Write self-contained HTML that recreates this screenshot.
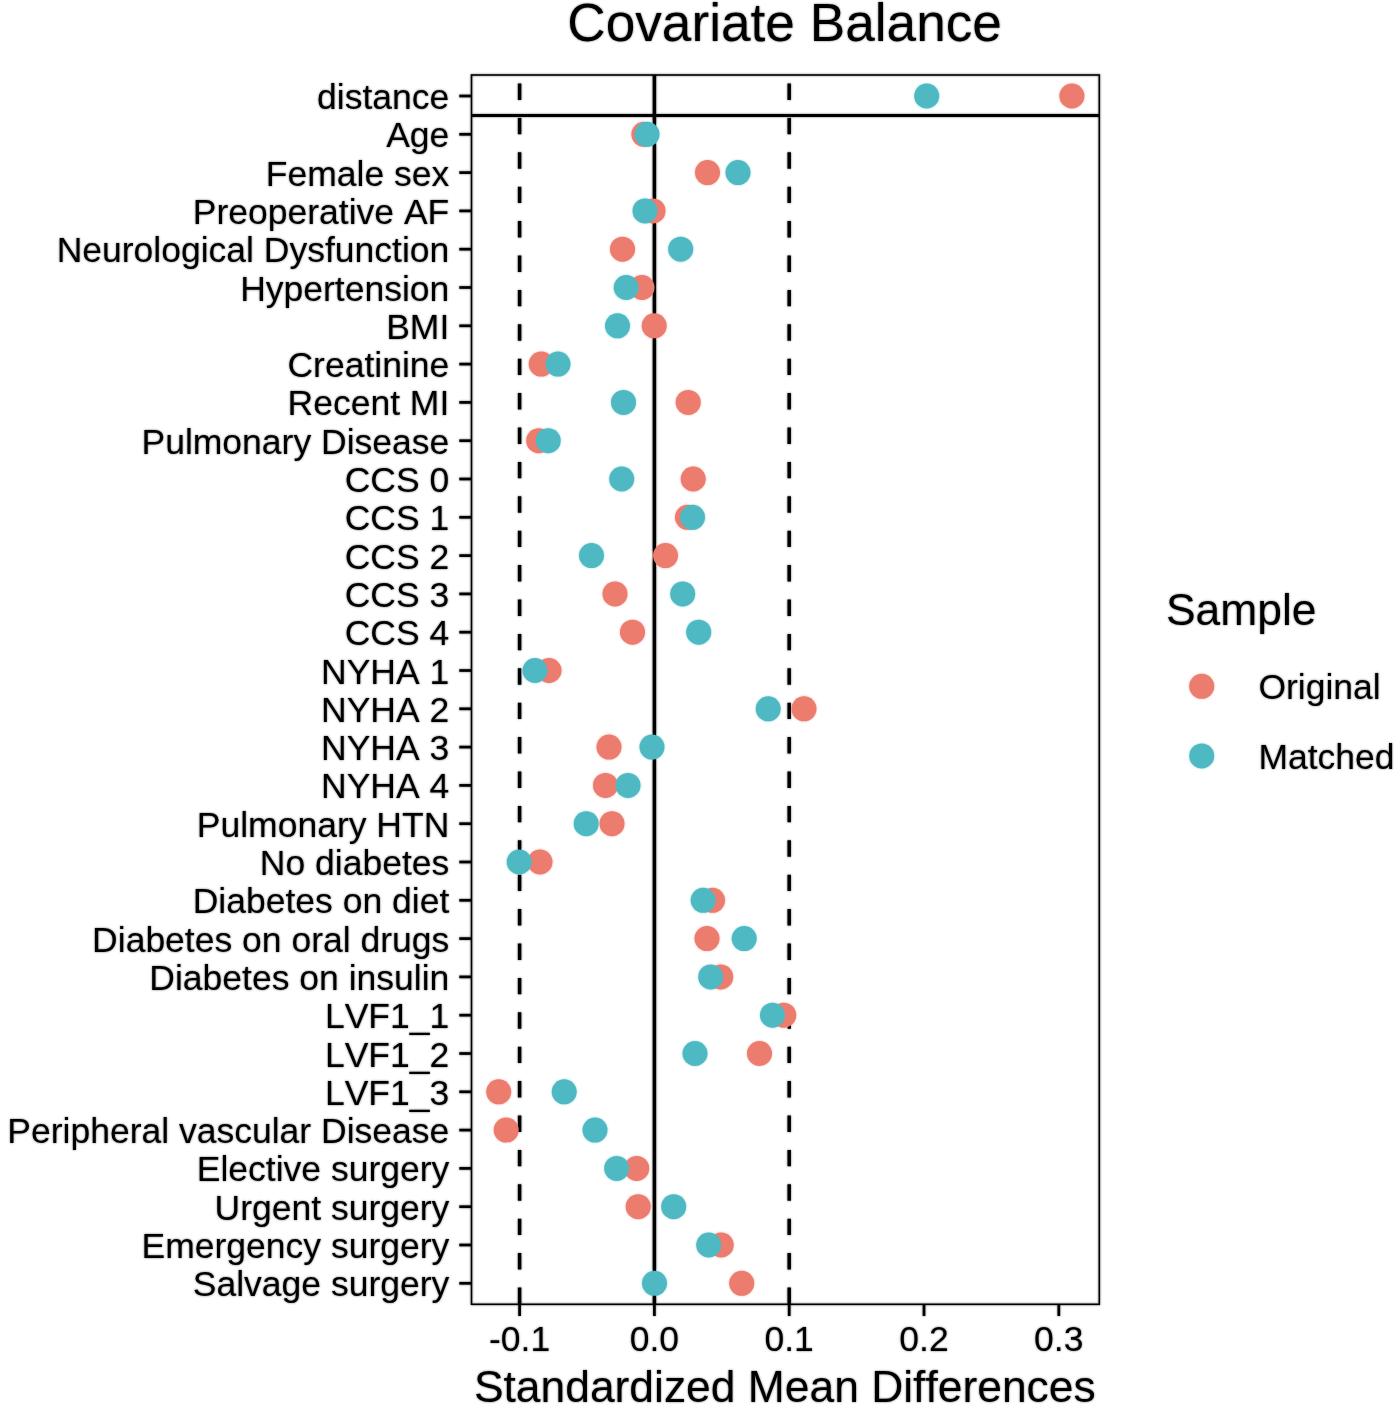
<!DOCTYPE html>
<html lang="en">
<head>
<meta charset="utf-8">
<title>Covariate Balance</title>
<style>
html,body{margin:0;padding:0;background:#fff;}
body{width:1400px;height:1416px;overflow:hidden;}
svg{display:block;}
text{font-family:"Liberation Sans",Arial,Helvetica,sans-serif;fill:#000;font-kerning:none;}
.ax{font-size:35.5px;}
.ti{font-size:44.4px;}
.pt{font-size:53.2px;}
</style>
</head>
<body>
<svg width="1400" height="1416" viewBox="0 0 1400 1416">
<defs><filter id="soft" x="0" y="0" width="1400" height="1416" filterUnits="userSpaceOnUse"><feGaussianBlur stdDeviation="0.8"/><feComponentTransfer result="b"><feFuncA type="linear" slope="0.55"/></feComponentTransfer><feMerge><feMergeNode in="b"/><feMergeNode in="SourceGraphic"/></feMerge></filter></defs>
<rect x="0" y="0" width="1400" height="1416" fill="#ffffff"/>
<g filter="url(#soft)">
<text class="pt" x="784.6" y="41.1" text-anchor="middle">Covariate Balance</text>
<g stroke="#000" fill="none">
<line x1="654.4" y1="1304.3" x2="654.4" y2="75.0" stroke-width="3.5"/>
<line x1="519.6" y1="1303.9" x2="519.6" y2="75.0" stroke-width="3.5" stroke-dasharray="16.4 18"/>
<line x1="789.2" y1="1303.9" x2="789.2" y2="75.0" stroke-width="3.5" stroke-dasharray="16.4 18"/>
<line x1="471.5" y1="115.5" x2="1099.3" y2="115.5" stroke-width="3.1"/>
</g>
<g>
<circle cx="1071.9" cy="96.0" r="12.5" fill="#ec7b6e"/>
<circle cx="643.9" cy="134.3" r="12.5" fill="#ec7b6e"/>
<circle cx="707.5" cy="172.6" r="12.5" fill="#ec7b6e"/>
<circle cx="653.0" cy="210.9" r="12.5" fill="#ec7b6e"/>
<circle cx="622.5" cy="249.2" r="12.5" fill="#ec7b6e"/>
<circle cx="642.0" cy="287.5" r="12.5" fill="#ec7b6e"/>
<circle cx="654.2" cy="325.8" r="12.5" fill="#ec7b6e"/>
<circle cx="541.2" cy="364.1" r="12.5" fill="#ec7b6e"/>
<circle cx="688.2" cy="402.4" r="12.5" fill="#ec7b6e"/>
<circle cx="538.7" cy="440.7" r="12.5" fill="#ec7b6e"/>
<circle cx="693.2" cy="479.0" r="12.5" fill="#ec7b6e"/>
<circle cx="687.5" cy="517.3" r="12.5" fill="#ec7b6e"/>
<circle cx="665.5" cy="555.6" r="12.5" fill="#ec7b6e"/>
<circle cx="615.0" cy="593.9" r="12.5" fill="#ec7b6e"/>
<circle cx="632.5" cy="632.2" r="12.5" fill="#ec7b6e"/>
<circle cx="549.0" cy="670.5" r="12.5" fill="#ec7b6e"/>
<circle cx="804.0" cy="708.8" r="12.5" fill="#ec7b6e"/>
<circle cx="609.0" cy="747.1" r="12.5" fill="#ec7b6e"/>
<circle cx="605.5" cy="785.4" r="12.5" fill="#ec7b6e"/>
<circle cx="612.0" cy="823.7" r="12.5" fill="#ec7b6e"/>
<circle cx="540.0" cy="862.0" r="12.5" fill="#ec7b6e"/>
<circle cx="712.5" cy="900.3" r="12.5" fill="#ec7b6e"/>
<circle cx="707.0" cy="938.6" r="12.5" fill="#ec7b6e"/>
<circle cx="720.7" cy="976.9" r="12.5" fill="#ec7b6e"/>
<circle cx="783.7" cy="1015.2" r="12.5" fill="#ec7b6e"/>
<circle cx="759.5" cy="1053.5" r="12.5" fill="#ec7b6e"/>
<circle cx="498.7" cy="1091.8" r="12.5" fill="#ec7b6e"/>
<circle cx="506.2" cy="1130.1" r="12.5" fill="#ec7b6e"/>
<circle cx="636.7" cy="1168.4" r="12.5" fill="#ec7b6e"/>
<circle cx="638.2" cy="1206.7" r="12.5" fill="#ec7b6e"/>
<circle cx="721.2" cy="1245.0" r="12.5" fill="#ec7b6e"/>
<circle cx="741.7" cy="1283.3" r="12.5" fill="#ec7b6e"/>
<circle cx="926.7" cy="96.0" r="12.5" fill="#50b9c3"/>
<circle cx="647.0" cy="134.3" r="12.5" fill="#50b9c3"/>
<circle cx="738.0" cy="172.6" r="12.5" fill="#50b9c3"/>
<circle cx="645.0" cy="210.9" r="12.5" fill="#50b9c3"/>
<circle cx="680.7" cy="249.2" r="12.5" fill="#50b9c3"/>
<circle cx="626.2" cy="287.5" r="12.5" fill="#50b9c3"/>
<circle cx="617.5" cy="325.8" r="12.5" fill="#50b9c3"/>
<circle cx="558.0" cy="364.1" r="12.5" fill="#50b9c3"/>
<circle cx="623.5" cy="402.4" r="12.5" fill="#50b9c3"/>
<circle cx="548.2" cy="440.7" r="12.5" fill="#50b9c3"/>
<circle cx="621.7" cy="479.0" r="12.5" fill="#50b9c3"/>
<circle cx="692.5" cy="517.3" r="12.5" fill="#50b9c3"/>
<circle cx="591.5" cy="555.6" r="12.5" fill="#50b9c3"/>
<circle cx="682.7" cy="593.9" r="12.5" fill="#50b9c3"/>
<circle cx="698.7" cy="632.2" r="12.5" fill="#50b9c3"/>
<circle cx="535.0" cy="670.5" r="12.5" fill="#50b9c3"/>
<circle cx="768.2" cy="708.8" r="12.5" fill="#50b9c3"/>
<circle cx="652.0" cy="747.1" r="12.5" fill="#50b9c3"/>
<circle cx="628.0" cy="785.4" r="12.5" fill="#50b9c3"/>
<circle cx="586.2" cy="823.7" r="12.5" fill="#50b9c3"/>
<circle cx="519.2" cy="862.0" r="12.5" fill="#50b9c3"/>
<circle cx="703.2" cy="900.3" r="12.5" fill="#50b9c3"/>
<circle cx="744.2" cy="938.6" r="12.5" fill="#50b9c3"/>
<circle cx="710.7" cy="976.9" r="12.5" fill="#50b9c3"/>
<circle cx="772.5" cy="1015.2" r="12.5" fill="#50b9c3"/>
<circle cx="695.0" cy="1053.5" r="12.5" fill="#50b9c3"/>
<circle cx="564.2" cy="1091.8" r="12.5" fill="#50b9c3"/>
<circle cx="595.0" cy="1130.1" r="12.5" fill="#50b9c3"/>
<circle cx="616.7" cy="1168.4" r="12.5" fill="#50b9c3"/>
<circle cx="673.7" cy="1206.7" r="12.5" fill="#50b9c3"/>
<circle cx="708.7" cy="1245.0" r="12.5" fill="#50b9c3"/>
<circle cx="654.5" cy="1283.3" r="12.5" fill="#50b9c3"/>
</g>
<rect x="471.5" y="75.0" width="627.8" height="1229.3" fill="none" stroke="#000" stroke-width="1.6"/>
<g stroke="#000" stroke-width="2.7">
<line x1="459.3" y1="96.0" x2="471.5" y2="96.0"/>
<line x1="459.3" y1="134.3" x2="471.5" y2="134.3"/>
<line x1="459.3" y1="172.6" x2="471.5" y2="172.6"/>
<line x1="459.3" y1="210.9" x2="471.5" y2="210.9"/>
<line x1="459.3" y1="249.2" x2="471.5" y2="249.2"/>
<line x1="459.3" y1="287.5" x2="471.5" y2="287.5"/>
<line x1="459.3" y1="325.8" x2="471.5" y2="325.8"/>
<line x1="459.3" y1="364.1" x2="471.5" y2="364.1"/>
<line x1="459.3" y1="402.4" x2="471.5" y2="402.4"/>
<line x1="459.3" y1="440.7" x2="471.5" y2="440.7"/>
<line x1="459.3" y1="479.0" x2="471.5" y2="479.0"/>
<line x1="459.3" y1="517.3" x2="471.5" y2="517.3"/>
<line x1="459.3" y1="555.6" x2="471.5" y2="555.6"/>
<line x1="459.3" y1="593.9" x2="471.5" y2="593.9"/>
<line x1="459.3" y1="632.2" x2="471.5" y2="632.2"/>
<line x1="459.3" y1="670.5" x2="471.5" y2="670.5"/>
<line x1="459.3" y1="708.8" x2="471.5" y2="708.8"/>
<line x1="459.3" y1="747.1" x2="471.5" y2="747.1"/>
<line x1="459.3" y1="785.4" x2="471.5" y2="785.4"/>
<line x1="459.3" y1="823.7" x2="471.5" y2="823.7"/>
<line x1="459.3" y1="862.0" x2="471.5" y2="862.0"/>
<line x1="459.3" y1="900.3" x2="471.5" y2="900.3"/>
<line x1="459.3" y1="938.6" x2="471.5" y2="938.6"/>
<line x1="459.3" y1="976.9" x2="471.5" y2="976.9"/>
<line x1="459.3" y1="1015.2" x2="471.5" y2="1015.2"/>
<line x1="459.3" y1="1053.5" x2="471.5" y2="1053.5"/>
<line x1="459.3" y1="1091.8" x2="471.5" y2="1091.8"/>
<line x1="459.3" y1="1130.1" x2="471.5" y2="1130.1"/>
<line x1="459.3" y1="1168.4" x2="471.5" y2="1168.4"/>
<line x1="459.3" y1="1206.7" x2="471.5" y2="1206.7"/>
<line x1="459.3" y1="1245.0" x2="471.5" y2="1245.0"/>
<line x1="459.3" y1="1283.3" x2="471.5" y2="1283.3"/>
<line x1="519.6" y1="1304.3" x2="519.6" y2="1316"/>
<line x1="654.4" y1="1304.3" x2="654.4" y2="1316"/>
<line x1="789.2" y1="1304.3" x2="789.2" y2="1316"/>
<line x1="924.0" y1="1304.3" x2="924.0" y2="1316"/>
<line x1="1058.8" y1="1304.3" x2="1058.8" y2="1316"/>
</g>
<g class="ax" text-anchor="end">
<text x="449.3" y="109.0">distance</text>
<text x="449.3" y="147.3">Age</text>
<text x="449.3" y="185.6">Female sex</text>
<text x="449.3" y="223.9">Preoperative AF</text>
<text x="449.3" y="262.2">Neurological Dysfunction</text>
<text x="449.3" y="300.5">Hypertension</text>
<text x="449.3" y="338.8">BMI</text>
<text x="449.3" y="377.1">Creatinine</text>
<text x="449.3" y="415.4">Recent MI</text>
<text x="449.3" y="453.7">Pulmonary Disease</text>
<text x="449.3" y="492.0">CCS 0</text>
<text x="449.3" y="530.3">CCS 1</text>
<text x="449.3" y="568.6">CCS 2</text>
<text x="449.3" y="606.9">CCS 3</text>
<text x="449.3" y="645.2">CCS 4</text>
<text x="449.3" y="683.5">NYHA 1</text>
<text x="449.3" y="721.8">NYHA 2</text>
<text x="449.3" y="760.1">NYHA 3</text>
<text x="449.3" y="798.4">NYHA 4</text>
<text x="449.3" y="836.7">Pulmonary HTN</text>
<text x="449.3" y="875.0">No diabetes</text>
<text x="449.3" y="913.3">Diabetes on diet</text>
<text x="449.3" y="951.6">Diabetes on oral drugs</text>
<text x="449.3" y="989.9">Diabetes on insulin</text>
<text x="449.3" y="1028.2">LVF1_1</text>
<text x="449.3" y="1066.5">LVF1_2</text>
<text x="449.3" y="1104.8">LVF1_3</text>
<text x="449.3" y="1143.1">Peripheral vascular Disease</text>
<text x="449.3" y="1181.4">Elective surgery</text>
<text x="449.3" y="1219.7">Urgent surgery</text>
<text x="449.3" y="1258.0">Emergency surgery</text>
<text x="449.3" y="1296.3">Salvage surgery</text>
</g>
<g class="ax" text-anchor="middle">
<text x="519.6" y="1351">-0.1</text>
<text x="654.4" y="1351">0.0</text>
<text x="789.2" y="1351">0.1</text>
<text x="924.0" y="1351">0.2</text>
<text x="1058.8" y="1351">0.3</text>
</g>
<text class="ti" x="784.8" y="1401.8" text-anchor="middle">Standardized Mean Differences</text>
<text class="ti" x="1166" y="624.8">Sample</text>
<circle cx="1201.7" cy="686.3" r="12.5" fill="#ec7b6e"/>
<circle cx="1201.7" cy="755.9" r="12.5" fill="#50b9c3"/>
<text class="ax" x="1258.4" y="699.3">Original</text>
<text class="ax" x="1258.4" y="768.9">Matched</text>
</g>
</svg>
</body>
</html>
